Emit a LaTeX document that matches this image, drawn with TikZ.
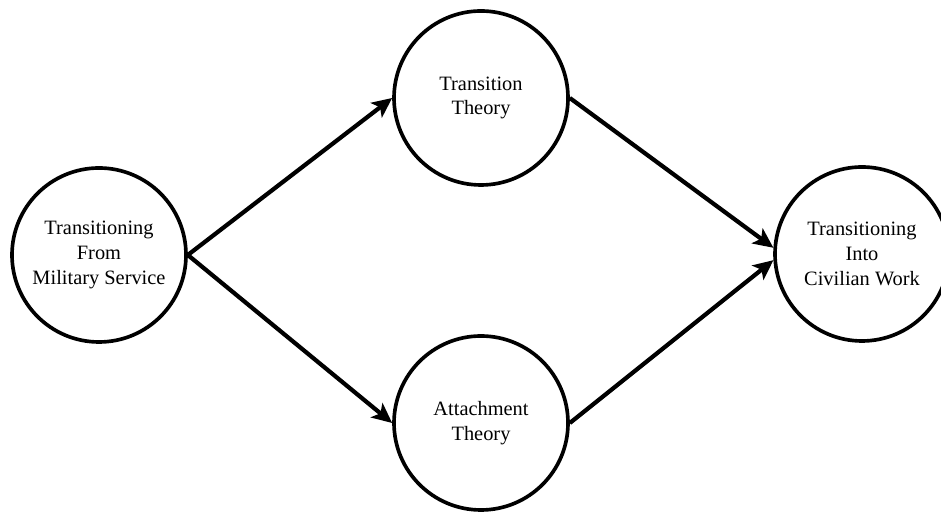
\documentclass[tikz,border=0pt]{standalone}
\usepackage{fontspec}
\setmainfont{Liberation Serif}
\usetikzlibrary{arrows.meta}
\begin{document}
\begin{tikzpicture}[
		theory/.style={draw, circle, line width=2.6pt, minimum size=4.35cm, inner sep=0pt, align=center, font=\fontsize{14.5}{17.5}\selectfont},
		flow/.style={line width=3pt, -{Stealth[length=5mm,width=4.6mm,inset=1.2mm]}}
	]
		\useasboundingbox (0,0) rectangle (23.525,12.8);
		\node[theory] (military) at (2.475,6.425) {Transitioning\\From\\Military Service};
		\node[theory] (transition) at (12.025,10.35) {Transition\\Theory};
		\node[theory] (attachment) at (12.025,2.225) {Attachment\\Theory};
		\node[theory] (civilian) at (21.55,6.45) {Transitioning\\Into\\Civilian Work};
		\draw[flow] (military.east) -- (transition.west);
		\draw[flow] (military.east) -- (attachment.west);
		\draw[flow] (transition.east) -- (civilian.176);
		\draw[flow] (attachment.east) -- (civilian.184);
	\end{tikzpicture}
\end{document}
